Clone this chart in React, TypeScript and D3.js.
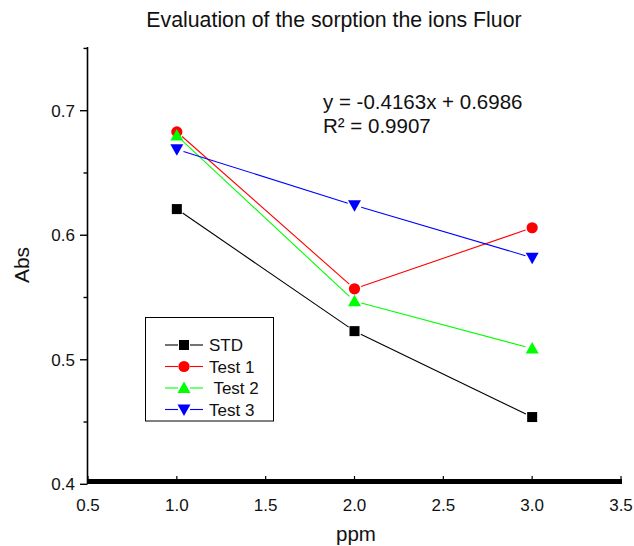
import React from "react";
import * as d3 from "d3";

const xValues = [1.0, 2.0, 3.0];
const seriesNames = ["STD", "Test 1", " Test 2", "Test 3"];
const seriesColors = ["#000000", "#ff0000", "#00ff00", "#0000ff"];
const seriesSymbols = ["square", "circle", "triangleUp", "triangleDown"];
const stdValues = [0.621, 0.523, 0.454];
const test1Values = [0.683, 0.557, 0.606];
const test2Values = [0.680, 0.547, 0.509];
const test3Values = [0.669, 0.624, 0.582];
const xTicks = [0.5, 1.0, 1.5, 2.0, 2.5, 3.0, 3.5];
const yTicks = [0.4, 0.5, 0.6, 0.7];
const yMinorTicks = [0.45, 0.55, 0.65, 0.75];
const title = "Evaluation of the sorption the ions Fluor";
const equationLines = ["y = -0.4163x + 0.6986", "R² = 0.9907"];

const allSeries = [stdValues, test1Values, test2Values, test3Values];

const W = 634;
const H = 546;
const FONT = "Liberation Sans, Arial, sans-serif";

function Marker({ type, x, y, color }: { type: string; x: number; y: number; color: string }) {
  if (type === "square") {
    return <rect x={x - 5} y={y - 5} width={10} height={10} fill={color} />;
  }
  if (type === "circle") {
    return <circle cx={x} cy={y} r={5.6} fill={color} />;
  }
  if (type === "triangleUp") {
    return <path d={`M${x},${y - 6.5}L${x + 6.5},${y + 5}L${x - 6.5},${y + 5}Z`} fill={color} />;
  }
  return <path d={`M${x},${y + 6.5}L${x + 6.5},${y - 5}L${x - 6.5},${y - 5}Z`} fill={color} />;
}

export default function App() {
  const x = d3.scaleLinear().domain([0.5, 3.5]).range([88, 621]);
  const y = d3.scaleLinear().domain([0.4, 0.7]).range([484.3, 110.7]);
  const gap = 7;

  const segs = (vals: number[]) => {
    const out: { x1: number; y1: number; x2: number; y2: number }[] = [];
    for (let i = 0; i < vals.length - 1; i++) {
      const ax = x(xValues[i]), ay = y(vals[i]);
      const bx = x(xValues[i + 1]), by = y(vals[i + 1]);
      const len = Math.hypot(bx - ax, by - ay);
      const ux = (bx - ax) / len, uy = (by - ay) / len;
      out.push({ x1: ax + ux * gap, y1: ay + uy * gap, x2: bx - ux * gap, y2: by - uy * gap });
    }
    return out;
  };

  const legendRowY = [345, 366.5, 388, 409.5];

  return (
    <svg width={W} height={H} style={{ position: "absolute", left: 0, top: 0, background: "#fff" }} fontFamily={FONT}>
      <rect x={0} y={0} width={W} height={H} fill="#fff" />
      <text x={334} y={27} textAnchor="middle" fontSize={21.3} fill="#111">{title}</text>

      {/* y axis */}
      <line x1={87.5} x2={87.5} y1={47} y2={484} stroke="#000" strokeWidth={1.6} />
      {yTicks.map((t) => (
        <g key={t}>
          <line x1={80} x2={87.5} y1={y(t)} y2={y(t)} stroke="#000" strokeWidth={1.4} />
          <text x={75} y={y(t) + 6} textAnchor="end" fontSize={17} fill="#111">{t.toFixed(1)}</text>
        </g>
      ))}
      {yMinorTicks.map((t) => (
        <line key={t} x1={83.5} x2={87.5} y1={y(t)} y2={y(t)} stroke="#000" strokeWidth={1.4} />
      ))}
      <text transform={`translate(29,265) rotate(-90)`} textAnchor="middle" fontSize={21} fill="#111">Abs</text>

      {/* x axis */}
      <line x1={87} x2={622} y1={481.6} y2={481.6} stroke="#000" strokeWidth={5} />
      {xTicks.map((t) => (
        <g key={t}>
          <line x1={x(t)} x2={x(t)} y1={476} y2={484} stroke="#000" strokeWidth={1.2} />
          <text x={x(t)} y={511} textAnchor="middle" fontSize={17} fill="#111">{t.toFixed(1)}</text>
        </g>
      ))}
      <text x={356} y={541} textAnchor="middle" fontSize={20.5} fill="#111">ppm</text>

      {/* series */}
      {allSeries.map((vals, si) => (
        <g key={si}>
          {segs(vals).map((s, i) => (
            <line key={i} {...s} stroke={seriesColors[si]} strokeWidth={1.1} />
          ))}
        </g>
      ))}
      {allSeries.map((vals, si) => (
        <g key={si}>
          {vals.map((v, i) => (
            <Marker key={i} type={seriesSymbols[si]} x={x(xValues[i])} y={y(v)} color={seriesColors[si]} />
          ))}
        </g>
      ))}

      {/* equation */}
      <text x={323} y={108.5} fontSize={20.5} fill="#111">{equationLines[0]}</text>
      <text x={323} y={132.5} fontSize={20.5} fill="#111">{equationLines[1]}</text>

      {/* legend */}
      <rect x={145.5} y={317.5} width={128} height={103.5} fill="none" stroke="#000" strokeWidth={1} />
      {seriesNames.map((n, i) => (
        <g key={n}>
          <line x1={165} x2={178} y1={legendRowY[i]} y2={legendRowY[i]} stroke={seriesColors[i]} strokeWidth={1.1} />
          <line x1={190} x2={203} y1={legendRowY[i]} y2={legendRowY[i]} stroke={seriesColors[i]} strokeWidth={1.1} />
          <Marker type={seriesSymbols[i]} x={184} y={legendRowY[i]} color={seriesColors[i]} />
          <text x={209} y={legendRowY[i] + 6} fontSize={17} fill="#111" style={{ whiteSpace: "pre" }}>{n}</text>
        </g>
      ))}
    </svg>
  );
}
